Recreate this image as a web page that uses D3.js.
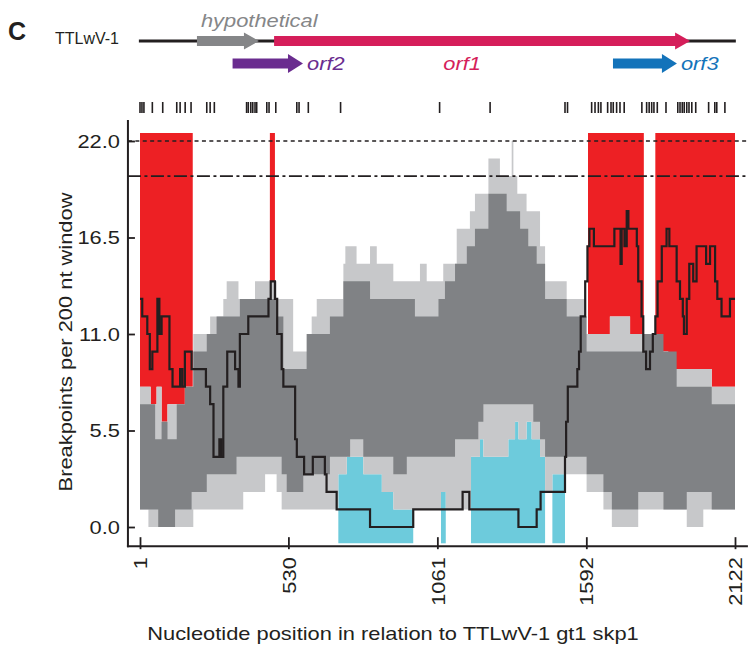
<!DOCTYPE html>
<html>
<head>
<meta charset="utf-8">
<script src="https://cdn.jsdelivr.net/npm/d3@7"></script>
<style>
  body { margin: 0; background: #fff; }
  svg { display: block; font-family: "Liberation Sans", Arial, sans-serif; }
</style>
</head>
<body>
<div id="chart"></div>
<script>
// axis ticks
const xTicks = [1, 530, 1061, 1592, 2122];
const yTicks = [0, 5.5, 11, 16.5, 22];

// step series: [start nt, breakpoint count] (holds until next start)
const lightUpper = [[1,8],[39,7],[60,8],[78,6],[99,7],[161,8],[191,11],[251,12],[298,13],[310,14],[352,13],[411,14],[488,13],[547,10],[613,12],[631,13],[726,15],[733,16],[773,15],[821,16],[845,15],[904,14],[999,15],[1023,14],[1082,15],[1130,17],[1177,18],[1195,19],[1243,21],[1284,20],[1326,22],[1332,20],[1346,19],[1379,18],[1427,16],[1445,14],[1522,13],[1587,11],[1676,12],[1748,11],[1838,10],[1884,9],[2039,8]];
const darkUpper = [[1,7],[55,5],[78,6],[99,5],[132,7],[161,8],[191,10],[239,11],[274,12],[357,13],[488,12],[512,9],[595,11],[678,12],[726,14],[821,13],[981,12],[1065,13],[1088,14],[1124,15],[1166,16],[1195,17],[1243,19],[1308,18],[1356,17],[1385,16],[1415,15],[1445,13],[1522,12],[1593,10],[1795,11],[1867,10],[1914,8],[2039,7]];
const darkLower = [[1,1],[66,0],[126,1],[185,2],[239,3],[345,4],[506,3],[524,2],[583,3],[678,4],[750,5],[797,4],[904,3],[952,4],[1124,5],[1207,6],[1225,7],[1403,6],[1427,5],[1445,4],[1593,3],[1653,2],[1683,1],[1777,2],[1867,1],[1950,2],[2039,1]];
const lightLower = [[1,1],[31,0],[191,1],[369,2],[447,3],[488,2],[506,1],[708,3],[738,4],[797,3],[863,2],[904,1],[1074,2],[1091,1],[1181,4],[1213,5],[1225,4],[1314,5],[1338,6],[1350,5],[1379,6],[1397,5],[1427,4],[1445,2],[1471,3],[1593,2],[1653,1],[1683,0],[1777,1],[1950,0],[2009,1]];
const observed = [[1,13],[9,12],[27,11],[36,9],[45,10],[63,13],[70,11],[78,12],[106,9],[117,8],[144,9],[152,8],[161,10],[185,9],[236,8],[251,7],[263,4],[284,5],[290,4],[298,8],[312,10],[340,9],[352,8],[357,11],[387,12],[459,13],[467,14],[482,13],[490,11],[506,9],[512,8],[554,5],[560,4],[586,3],[617,4],[660,3],[666,2],[702,1],[821,0],[975,1],[1151,2],[1175,1],[1350,0],[1415,1],[1429,2],[1516,4],[1520,6],[1526,8],[1560,9],[1566,10],[1572,12],[1588,14],[1596,16],[1603,17],[1619,16],[1692,17],[1714,15],[1718,17],[1728,16],[1736,18],[1742,17],[1772,16],[1777,14],[1789,12],[1795,10],[1805,9],[1819,10],[1829,11],[1838,12],[1846,14],[1861,16],[1878,17],[1888,16],[1914,14],[1926,13],[1936,12],[1940,11],[1950,13],[1959,15],[1973,14],[1985,16],[2019,15],[2033,16],[2051,14],[2059,13],[2074,12],[2104,13]];

const hotSpots = [[1,189],[464,482],[1598,1797],[1838,2122]];
const coldSpots = [[708,975],[1074,1091],[1181,1445],[1471,1516]];
const thresholds = [22, 20];
const breakpoints = [1,8,15,45,82,132,144,162,183,239,251,266,381,387,396,403,411,417,453,461,485,560,568,601,716,1069,1249,1516,1525,1611,1623,1635,1644,1668,1680,1688,1700,1712,1727,1790,1807,1816,1825,1833,1845,1876,1918,1926,1934,1941,1950,1958,1968,1982,2028,2050,2057,2086];

// genome map
const geneNames = ['hypothetical', 'orf1', 'orf2', 'orf3'];
const geneStart = [204, 479, 331, 1687];
const geneEnd = [425, 1962, 582, 1915];
const geneRow = [0, 0, 1, 1];
const genomeSpan = [-3, 2125];

const geneColor = { hypothetical: '#858688', orf1: '#d51e5a', orf2: '#6a2c8f', orf3: '#1373ba' };
const ink = '#231f20';

const width = 751, height = 656;
const x = d3.scaleLinear().domain([1, 2122]).range([140, 735]);
const y = d3.scaleLinear().domain([0, 22]).range([527, 141]);
const frame = { left: -42, right: 2168, top: 23.2, bottom: -1.15, hot: 22.45, cold: -0.93 };

const svg = d3.select('#chart').append('svg')
  .attr('width', width)
  .attr('height', height);

const valueAt = (series, pos) => {
  let v = series[0][1];
  for (const [p, val] of series) { if (p <= pos) v = val; else break; }
  return v;
};

// merge the change points of two step series over [from, to]
const joinSteps = (a, b, from, to) => {
  const pos = new Set([from, to]);
  a.concat(b || []).forEach(([p]) => { if (p > from && p < to) pos.add(p); });
  return Array.from(pos).sort((m, n) => m - n)
    .map(p => [p, valueAt(a, p), b ? valueAt(b, p) : 0]);
};

const band = d3.area().curve(d3.curveStepAfter)
  .x(d => x(d[0]))
  .y0(d => y(d[1]))
  .y1(d => y(d[2]));

const widen = (sel, k) => sel.each(function () {
  const w = this.getComputedTextLength();
  d3.select(this).attr('textLength', w * k).attr('lengthAdjust', 'spacingAndGlyphs');
});

// hot spots (above 99% band) and cold spots (below it)
hotSpots.forEach(([s, e]) => {
  const pts = joinSteps(lightUpper, null, s, e).map(d => [d[0], d[1], frame.hot]);
  svg.append('path').attr('d', band(pts)).attr('fill', '#ed2024');
});
coldSpots.forEach(([s, e]) => {
  const pts = joinSteps(lightLower, null, s, e).map(d => [d[0], d[1], frame.cold]);
  svg.append('path').attr('d', band(pts)).attr('fill', '#6dcbdc');
});

svg.append('path')
  .attr('d', band(joinSteps(lightLower, lightUpper, 1, 2122)))
  .attr('fill', '#c7c8ca');
svg.append('path')
  .attr('d', band(joinSteps(darkLower, darkUpper, 1, 2122)))
  .attr('fill', '#808285');

// threshold lines
svg.selectAll('.thr')
  .data(thresholds)
  .enter()
  .append('line')
  .attr('x1', x(frame.left)).attr('x2', x(frame.right))
  .attr('y1', d => y(d)).attr('y2', d => y(d))
  .attr('stroke', ink)
  .attr('stroke-width', (d, i) => i ? 1.8 : 1.6)
  .attr('stroke-dasharray', (d, i) => i ? '13,3.5,3,3.5' : '4,3.4');

// observed breakpoint counts
const pts = observed.concat([[2122, observed[observed.length - 1][1]]]);
svg.append('path')
  .attr('d', d3.line().curve(d3.curveStepAfter).x(d => x(d[0])).y(d => y(d[1]))(pts))
  .attr('fill', 'none')
  .attr('stroke', ink)
  .attr('stroke-width', 2.2);

// breakpoint marks above the plot
svg.selectAll('.bp')
  .data(breakpoints)
  .enter()
  .append('line')
  .attr('x1', d => x(d)).attr('x2', d => x(d))
  .attr('y1', 102).attr('y2', 113)
  .attr('stroke', ink)
  .attr('stroke-width', 1.6);

// y axis
const yAxis = svg.append('g')
  .attr('transform', `translate(${x(frame.left)},0)`)
  .call(d3.axisLeft(y).tickValues(yTicks).tickSize(-7).tickPadding(8).tickFormat(d3.format('.1f')));
yAxis.select('.domain').remove();
yAxis.attr('font-family', null).attr('font-size', 19);
yAxis.selectAll('line').attr('stroke', ink).attr('stroke-width', 1.8);
yAxis.selectAll('text').attr('fill', ink).call(widen, 1.15);
yAxis.append('line')
  .attr('y1', y(frame.top)).attr('y2', y(frame.bottom))
  .attr('stroke', ink).attr('stroke-width', 2);

// x axis
const xAxis = svg.append('g')
  .attr('transform', `translate(0,${y(frame.bottom) - 1})`)
  .call(d3.axisBottom(x).tickValues(xTicks).tickSize(-9).tickFormat(d3.format('d')));
xAxis.select('.domain').remove();
xAxis.attr('font-family', null).attr('font-size', 19);
xAxis.selectAll('line').attr('y1', 3).attr('stroke', ink).attr('stroke-width', 1.8);
xAxis.selectAll('text')
  .attr('transform', 'rotate(-90)')
  .attr('x', -11).attr('y', 0).attr('dy', '0.35em')
  .style('text-anchor', 'end')
  .attr('fill', ink)
  .call(widen, 1.15);
xAxis.append('line')
  .attr('x1', x(frame.left) - 1).attr('x2', x(frame.right))
  .attr('stroke', ink).attr('stroke-width', 2);

svg.append('text')
  .attr('transform', `translate(72,${(y(0) + y(22)) / 2 + 8}) rotate(-90)`)
  .attr('text-anchor', 'middle')
  .attr('font-size', 19)
  .attr('fill', ink)
  .text('Breakpoints per 200 nt window')
  .call(widen, 1.15);

svg.append('text')
  .attr('x', 393).attr('y', 640)
  .attr('text-anchor', 'middle')
  .attr('font-size', 19)
  .attr('fill', ink)
  .text('Nucleotide position in relation to TTLwV-1 gt1 skp1')
  .call(widen, 1.15);

// genome map
const rowY = [41, 63.5];
const arrow = (x0, x1, cy, body, head, len) =>
  `M${x0},${cy - body}L${x1 - len},${cy - body}L${x1 - len},${cy - head}L${x1},${cy}` +
  `L${x1 - len},${cy + head}L${x1 - len},${cy + body}L${x0},${cy + body}Z`;

svg.append('text')
  .attr('x', 8).attr('y', 40)
  .attr('font-size', 25).attr('font-weight', 'bold')
  .attr('fill', ink)
  .text('C');
svg.append('text')
  .attr('x', 55).attr('y', 44)
  .attr('font-size', 16)
  .attr('fill', ink)
  .text('TTLwV-1');
svg.append('line')
  .attr('x1', x(genomeSpan[0])).attr('x2', x(genomeSpan[1]))
  .attr('y1', rowY[0]).attr('y2', rowY[0])
  .attr('stroke', ink).attr('stroke-width', 3);

geneNames.forEach((name, i) => {
  const x0 = x(geneStart[i]), x1 = x(geneEnd[i]), cy = rowY[geneRow[i]];
  svg.append('path')
    .attr('d', arrow(x0, x1, cy, 5, geneRow[i] ? 9.5 : 8.5, 15))
    .attr('fill', geneColor[name]);

  const label = svg.append('text')
    .attr('font-size', 19)
    .attr('font-style', 'italic')
    .attr('fill', geneColor[name])
    .text(name);
  if (name === 'hypothetical') label.attr('x', x0 + 4).attr('y', 27);
  else if (name === 'orf1') label.attr('x', (x0 + x1) / 2 - 20).attr('y', 70).attr('text-anchor', 'middle');
  else label.attr('x', x1 + 4).attr('y', 70);
  label.call(widen, 1.15);
});
</script>
</body>
</html>
